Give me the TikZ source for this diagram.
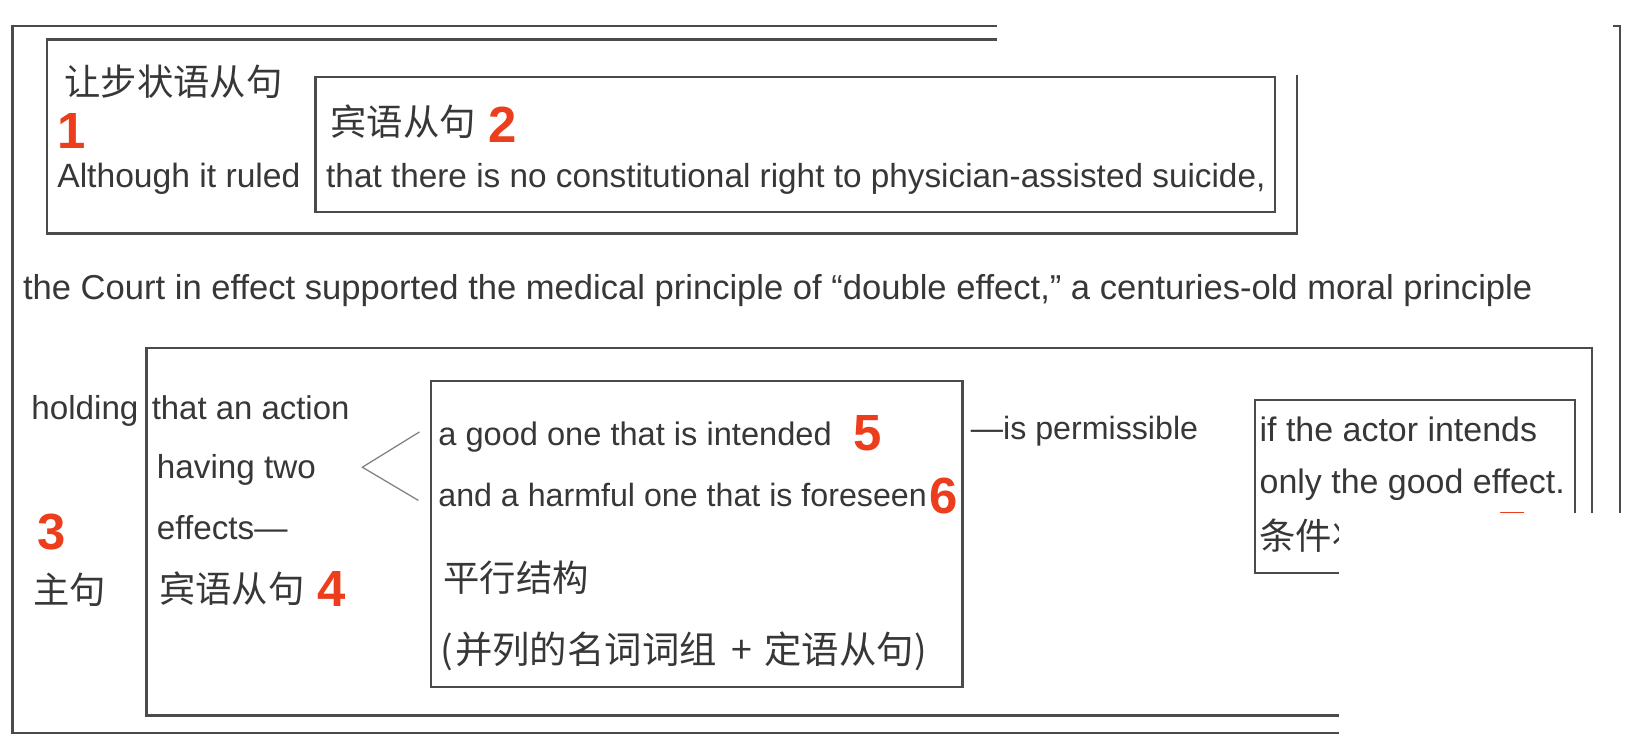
\documentclass[tikz,border=0pt]{standalone}
\usepackage{fontspec}
\setmainfont{Liberation Sans}
\newfontfamily\cjkfont{Noto Sans CJK SC}
\definecolor{tc}{RGB}{55,55,55}
\definecolor{lc}{RGB}{75,75,75}
\definecolor{rc}{RGB}{236,62,28}
\tikzset{
  box/.style={draw=lc, line width=2.2pt, inner sep=0pt, outer sep=0pt, anchor=north west},
  en/.style={anchor=base west, inner sep=0pt, text=tc, font=\fontsize{#1}{38}\selectfont},
  en/.default=32,
  zh/.style={anchor=west, inner sep=0pt, text=tc, font=\cjkfont\fontsize{#1}{40}\selectfont},
  zh/.default=35,
  num/.style={anchor=base west, inner sep=0pt, text=rc, font=\fontsize{49}{55}\selectfont\bfseries},
  brk/.style={draw=gray, line width=1.2pt},
  cover/.style={fill=white, draw=none}
}
\begin{document}
\begin{tikzpicture}[x=1pt,y=-1pt]
\fill[white] (0,0) rectangle (1568,720);
\useasboundingbox (0,0) rectangle (1568,720);
% boxes
\node[box, minimum width=1548pt, minimum height=681pt] (outer) at (12,25) {};
\node[box, minimum width=1204pt, minimum height=187pt] (b1) at (45,38) {};
\node[box, minimum width=924pt, minimum height=130pt] (b2) at (304,74.5) {};
\node[box, minimum width=1392pt, minimum height=354pt] (b3) at (141,335) {};
\node[box, minimum width=512pt, minimum height=295pt] (b4) at (415,367) {};
\node[box, minimum width=308pt, minimum height=167pt] (b5) at (1209,385) {};
% top part
\node[zh] (t1) at (62,79) {让步状语从句};
\node[num] (n1) at (55,143) {1};
\node[en=32.4] (t2) at (55,181) {Although it ruled};
\node[zh] (t3) at (318,117) {宾语从句};
\node[num] (n2) at (470,137.5) {2};
\node[en=32.1] (t4) at (314,181) {that there is no constitutional right to physician-assisted suicide,};
% main sentence
\node[en=33.3] (t5) at (22,288) {the Court in effect supported the medical principle of “double effect,” a centuries-old moral principle};
% bottom part
\node[en] (t6) at (30,404) {holding};
\node[en=31.7] (t7) at (146,404) {that an action};
\node[en] (t8) at (151,461) {having two};
\node[en] (t9) at (151,520) {effects—};
\node[zh] (t10) at (153,567) {宾语从句};
\node[num] (n4) at (306,584.5) {4};
\node[num] (n3) at (36,529.5) {3};
\node[zh] (t11) at (32,568) {主句};
\coordinate (lt) at (404,416);
\coordinate (lv) at (349,450);
\coordinate (lb) at (403,482);
\draw[brk] (lt) -- (lv) -- (lb);
\node[en=31.4] (t12) at (422,429) {a good one that is intended};
\node[num] (n5) at (822,433.5) {5};
\node[en=31] (t13) at (422,488) {and a harmful one that is foreseen};
\node[num] (n6) at (895,494.5) {6};
\node[zh] (t14) at (427,556) {平行结构};
\node[zh=36] (t15) at (424,627) {(\hspace{2pt}并列的名词词组\hspace{14pt}+\hspace{12pt}定语从句)};
\node[en=31] (t16) at (935,423) {—is permissible};
\node[en=32.7] (t17) at (1213,425) {if the actor intends};
\node[en=32.7] (t18) at (1213,475) {only the good effect.};
\node[zh] (t19) at (1213,516) {条件状语从句};
\node[num] (n7) at (1443,527) {7};
% covered regions of the screenshot
\fill[cover] (960,0) rectangle (1554,72.5);
\fill[cover] (1290,494) rectangle (1568,720);
\end{tikzpicture}
\end{document}
